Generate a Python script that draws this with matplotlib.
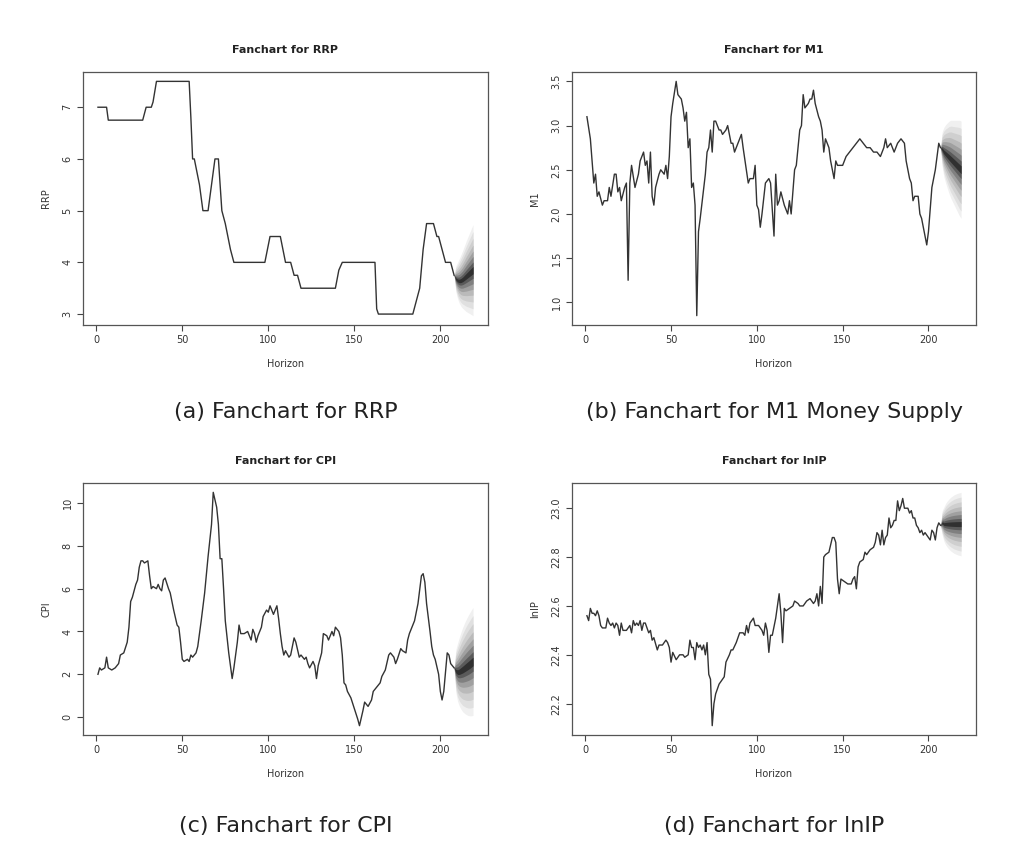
import matplotlib
matplotlib.use("Agg")
import matplotlib.pyplot as plt
import numpy as np

# ---------------- data ----------------
rrp_x = [1,6,7,27,29,32,33,35,54,55,56,57,60,62,65,69,71,73,75,78,80,98,101,107,110,113,115,117,119,139,141,143,162,163,164,184,188,190,192,196,198,199,201,203,206,208]
rrp_y = [7,7,6.75,6.75,7,7,7.1,7.5,7.5,6.8,6,6,5.5,5,5,6,6,5,4.75,4.25,4,4,4.5,4.5,4,4,3.75,3.75,3.5,3.5,3.85,4,4,3.1,3,3,3.5,4.25,4.75,4.75,4.5,4.5,4.25,4,4,3.75]
rrp_fan_x = [208,209,210,211,212,213,214,215,216,217,218,219]
rrp_fan_mid = [3.75,3.68,3.65,3.64,3.65,3.67,3.7,3.73,3.76,3.79,3.82,3.85]
rrp_fan_spread = [0.0,0.25,0.35,0.43,0.5,0.56,0.62,0.68,0.73,0.78,0.83,0.88]

m1_x = [1,3,5,6,7,8,10,11,13,14,15,17,18,19,20,21,23,24,25,26,27,29,31,32,34,35,36,37,38,39,40,41,43,44,46,47,48,49,50,51,53,54,56,57,58,59,60,61,62,63,64,65,66,67,70,71,72,73,74,75,76,78,79,80,82,83,85,86,87,88,90,91,92,95,96,98,99,100,101,102,103,105,107,108,110,111,112,113,114,116,117,118,119,120,122,123,125,126,127,128,130,131,132,133,134,136,137,138,139,140,142,143,145,146,147,149,150,152,154,156,158,160,162,164,166,168,170,172,174,175,176,178,180,182,184,186,187,189,190,191,192,194,195,196,198,199,200,202,204,206,207]
m1_y = [3.1,2.85,2.35,2.45,2.2,2.25,2.1,2.15,2.15,2.3,2.2,2.45,2.45,2.25,2.3,2.15,2.3,2.35,1.25,2.35,2.55,2.3,2.45,2.6,2.7,2.55,2.6,2.35,2.7,2.2,2.1,2.3,2.45,2.5,2.45,2.55,2.4,2.65,3.1,3.25,3.5,3.35,3.3,3.2,3.05,3.15,2.75,2.85,2.3,2.35,2.1,0.85,1.8,1.95,2.45,2.7,2.75,2.95,2.7,3.05,3.05,2.95,2.95,2.9,2.95,3.0,2.8,2.8,2.7,2.75,2.85,2.9,2.75,2.35,2.4,2.4,2.55,2.1,2.05,1.85,2.0,2.35,2.4,2.35,1.75,2.45,2.1,2.15,2.25,2.1,2.05,2.0,2.15,2.0,2.5,2.55,2.95,3.0,3.35,3.2,3.25,3.3,3.3,3.4,3.25,3.1,3.05,2.95,2.7,2.85,2.75,2.6,2.4,2.6,2.55,2.55,2.55,2.65,2.7,2.75,2.8,2.85,2.8,2.75,2.75,2.7,2.7,2.65,2.75,2.85,2.75,2.8,2.7,2.8,2.85,2.8,2.6,2.4,2.35,2.15,2.2,2.2,2.0,1.95,1.75,1.65,1.8,2.3,2.5,2.8,2.75]
m1_fan_x = [207,208,209,210,211,212,213,214,215,216,217,218,219]
m1_fan_mid = [2.75,2.73,2.7,2.68,2.66,2.64,2.62,2.6,2.58,2.56,2.54,2.52,2.5]
m1_fan_spread = [0.0,0.2,0.28,0.33,0.37,0.41,0.44,0.46,0.48,0.5,0.52,0.54,0.55]

cpi_x = [1,2,3,5,6,7,9,11,13,14,16,18,19,20,21,22,23,24,25,26,27,28,30,31,32,33,35,36,37,38,39,40,42,43,45,47,48,49,50,51,53,54,55,56,58,59,61,63,65,67,68,70,71,72,73,74,75,77,79,80,82,83,84,86,88,90,91,92,93,94,96,97,99,100,101,103,105,106,107,108,109,110,112,113,115,116,118,119,121,122,123,124,126,127,128,129,131,132,134,135,137,138,139,141,142,143,144,145,146,148,150,152,153,155,156,158,160,161,163,165,166,168,170,171,173,174,175,177,178,180,181,182,184,185,187,189,190,191,192,194,195,196,197,199,200,201,202,203,204,205,206,208]
cpi_y = [2.0,2.3,2.2,2.3,2.8,2.3,2.2,2.3,2.5,2.9,3.0,3.5,4.2,5.4,5.6,5.9,6.2,6.4,7.0,7.3,7.3,7.2,7.3,6.6,6.0,6.1,6.0,6.2,6.0,5.9,6.4,6.5,6.0,5.8,5.0,4.3,4.2,3.5,2.7,2.6,2.7,2.6,2.9,2.8,3.0,3.3,4.5,5.8,7.5,9.0,10.5,9.8,9.0,7.4,7.4,6.0,4.5,3.0,1.8,2.3,3.5,4.3,3.9,3.9,4.0,3.6,4.1,3.9,3.5,3.8,4.2,4.7,5.0,4.9,5.2,4.8,5.2,4.6,3.9,3.3,2.9,3.1,2.8,2.9,3.7,3.5,2.8,2.9,2.7,2.8,2.5,2.3,2.6,2.4,1.8,2.4,3.0,3.9,3.8,3.6,4.0,3.8,4.2,4.0,3.7,2.9,1.6,1.5,1.2,0.9,0.4,-0.1,-0.4,0.3,0.7,0.5,0.8,1.2,1.4,1.6,1.9,2.2,2.9,3.0,2.8,2.5,2.7,3.2,3.1,3.0,3.6,3.9,4.3,4.5,5.3,6.6,6.7,6.3,5.3,4.0,3.3,2.9,2.7,2.0,1.2,0.8,1.2,2.1,3.0,2.9,2.5,2.3]
cpi_fan_x = [208,209,210,211,212,213,214,215,216,217,218,219]
cpi_fan_mid = [2.3,2.15,2.1,2.12,2.17,2.22,2.28,2.34,2.4,2.46,2.53,2.6]
cpi_fan_spread = [0.0,1.0,1.35,1.6,1.8,1.97,2.1,2.22,2.32,2.4,2.47,2.52]

lnip_x = [1,2,3,4,5,6,7,8,9,10,12,13,14,15,16,17,18,19,20,21,22,24,26,27,28,29,30,31,32,33,34,35,37,38,39,40,42,43,45,47,48,49,50,51,53,55,57,58,60,61,62,63,64,65,66,67,68,69,70,71,72,73,74,75,76,78,79,81,82,84,85,86,88,89,90,92,93,94,95,96,98,99,101,103,104,105,106,107,108,109,111,113,114,115,116,117,119,121,122,124,125,127,129,131,133,134,135,136,137,138,139,140,142,144,145,146,147,148,149,151,153,155,156,157,158,159,160,162,163,164,166,168,169,170,171,172,173,174,175,176,177,178,179,180,181,182,183,184,185,186,188,189,190,191,192,193,194,195,196,197,198,199,200,201,202,203,204,205,206,207]
lnip_y = [22.56,22.54,22.59,22.57,22.57,22.56,22.58,22.56,22.52,22.51,22.51,22.55,22.53,22.52,22.53,22.51,22.53,22.52,22.48,22.53,22.50,22.50,22.52,22.49,22.54,22.52,22.53,22.52,22.54,22.50,22.53,22.53,22.49,22.50,22.46,22.47,22.42,22.44,22.44,22.46,22.45,22.43,22.37,22.41,22.38,22.40,22.40,22.39,22.40,22.46,22.43,22.43,22.38,22.45,22.43,22.44,22.42,22.44,22.40,22.45,22.32,22.30,22.11,22.20,22.24,22.28,22.29,22.31,22.37,22.40,22.42,22.42,22.45,22.47,22.49,22.49,22.48,22.52,22.49,22.53,22.55,22.52,22.52,22.50,22.48,22.53,22.50,22.41,22.48,22.48,22.55,22.65,22.57,22.45,22.59,22.58,22.59,22.60,22.62,22.61,22.60,22.60,22.62,22.63,22.61,22.62,22.65,22.60,22.68,22.61,22.80,22.81,22.82,22.88,22.88,22.86,22.71,22.65,22.71,22.70,22.69,22.69,22.71,22.72,22.67,22.76,22.78,22.79,22.82,22.81,22.83,22.84,22.86,22.90,22.89,22.85,22.91,22.85,22.88,22.89,22.96,22.92,22.93,22.95,22.95,23.03,22.99,23.01,23.04,23.00,23.00,22.98,22.99,22.96,22.96,22.93,22.92,22.90,22.91,22.89,22.90,22.89,22.88,22.87,22.91,22.90,22.87,22.92,22.94,22.93]
lnip_fan_x = [207,208,209,210,211,212,213,214,215,216,217,218,219]
lnip_fan_mid = [22.93,22.94,22.935,22.935,22.935,22.935,22.935,22.935,22.935,22.935,22.935,22.935,22.935]
lnip_fan_spread = [0.0,0.05,0.07,0.085,0.095,0.103,0.11,0.115,0.12,0.123,0.126,0.128,0.13]

panels = [
    ("Fanchart for RRP", "RRP", rrp_x, rrp_y, rrp_fan_x, rrp_fan_mid, rrp_fan_spread, [3,4,5,6,7], None),
    ("Fanchart for M1", "M1", m1_x, m1_y, m1_fan_x, m1_fan_mid, m1_fan_spread, [1.0,1.5,2.0,2.5,3.0,3.5], "%.1f"),
    ("Fanchart for CPI", "CPI", cpi_x, cpi_y, cpi_fan_x, cpi_fan_mid, cpi_fan_spread, [0,2,4,6,8,10], None),
    ("Fanchart for lnIP", "lnIP", lnip_x, lnip_y, lnip_fan_x, lnip_fan_mid, lnip_fan_spread, [22.2,22.4,22.6,22.8,23.0], "%.1f"),
]
captions = ["(a) Fanchart for RRP", "(b) Fanchart for M1 Money Supply",
            "(c) Fanchart for CPI", "(d) Fanchart for lnIP"]

fig = plt.figure(figsize=(10.24, 8.52), dpi=100)
W, H = 1024, 852
boxes = [(83, 72, 488, 325), (572, 72, 976, 325), (83, 483, 488, 735), (572, 483, 976, 735)]
cap_y = [412, 412, 826, 826]
fracs = [1.0, 0.85, 0.7, 0.55, 0.42, 0.3, 0.18, 0.08]
shades = ['#f0f0f0', '#e0e0e0', '#cfcfcf', '#bababa', '#a0a0a0', '#808080', '#5a5a5a', '#303030']

for i, (title, ylab, x, y, fx, fm, fs, yt, fmt) in enumerate(panels):
    l, t, r, b = boxes[i]
    ax = fig.add_axes([l / W, 1 - b / H, (r - l) / W, (b - t) / H])
    fm_a = np.array(fm); fs_a = np.array(fs)
    for f, c in zip(fracs, shades):
        ax.fill_between(fx, fm_a - f * fs_a, fm_a + f * fs_a, color=c, lw=0)
    ax.plot(x, y, color='#333333', lw=1.0)
    ax.set_xlim(-7.7, 227.7)
    ax.margins(y=0.04)
    ax.set_xticks([0, 50, 100, 150, 200])
    ax.set_yticks(yt)
    if fmt:
        ax.set_yticklabels([fmt % v for v in yt])
    for lab in ax.get_yticklabels():
        lab.set_rotation(90); lab.set_va('center')
    ax.tick_params(labelsize=7, length=4, color='#444444', labelcolor='#333333')
    ax.set_title(title, fontsize=8, fontweight='bold', pad=14, color='#222222')
    ax.set_xlabel("Horizon", fontsize=7, labelpad=10, color='#333333')
    ax.set_ylabel(ylab, fontsize=7, labelpad=8, color='#333333')
    for s in ax.spines.values():
        s.set_color('#555555'); s.set_linewidth(0.9)
    fig.text(((l + r) / 2) / W, 1 - cap_y[i] / H, captions[i], ha='center', va='center',
             fontsize=16, color='#222222')

fig.savefig("out.png", dpi=100)
